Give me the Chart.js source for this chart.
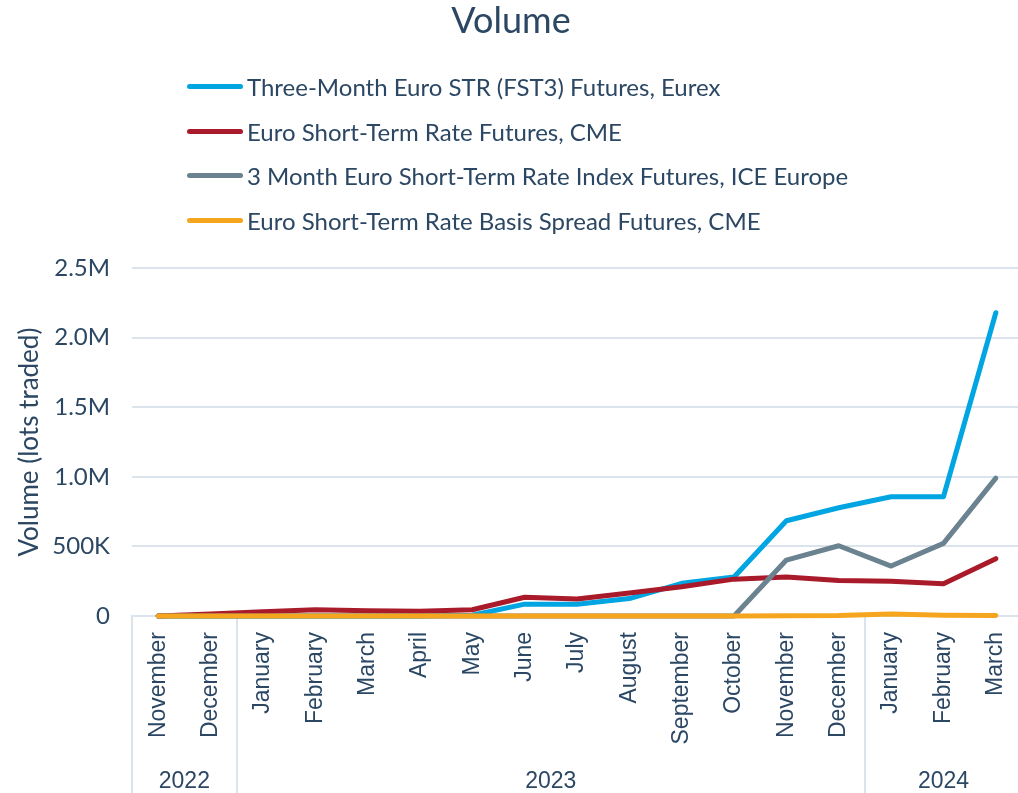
<!DOCTYPE html>
<html lang="en">
<head>
<meta charset="UTF-8">
<title>Volume</title>
<script src="https://cdn.jsdelivr.net/npm/chart.js"></script>
<style>
    html, body { margin: 0; padding: 0; background: #fff; overflow: hidden; }
    .chart-box { position: relative; width: 1022px; height: 793px; }
    #legend {
        position: absolute;
        left: 187px;
        top: 64px;
        font-family: Lato, sans-serif;
        font-size: 24px;
        color: #2b4763;
    }
    #legend .item { display: flex; align-items: center; height: 44.7px; white-space: nowrap; }
    #legend .swatch { width: 56px; height: 5px; border-radius: 3px; margin-right: 4px; }
</style>
</head>
<body>
<div class="chart-box">
    <canvas id="volumeChart"></canvas>
    <div id="legend"></div>
</div>
<script>
// months Nov 2022 .. Mar 2024
const months = ['November', 'December', 'January', 'February', 'March', 'April', 'May', 'June',
    'July', 'August', 'September', 'October', 'November', 'December', 'January', 'February', 'March'];
const years = ['2022', '2023', '2024'];
const monthsPerYear = [2, 12, 3];

const fst3Eurex = [0, 0, 0, 0, 0, 0, 5000, 85000, 85000, 125000, 235000, 280000, 685000, 778000, 857000, 857000, 2180000];
const estrCme = [0, 15000, 30000, 45000, 38000, 35000, 45000, 135000, 122000, 165000, 210000, 265000, 280000, 255000, 250000, 232000, 412000];
const iceEurope = [0, 0, 0, 0, 0, 0, 0, 0, 0, 0, 0, 0, 402000, 505000, 359000, 522000, 991000];
const basisCme = [0, 0, 0, 0, 0, 0, 0, 0, 0, 0, 0, 0, 2000, 3000, 15000, 5000, 3000];

const yTicks = [0, 500000, 1000000, 1500000, 2000000, 2500000];
const yTickLabels = ['0', '500K', '1.0M', '1.5M', '2.0M', '2.5M'];

const textColor = '#2b4763';
const gridColor = '#dbe4ed';

// year boundaries (in month index) and year label centres
const yearEdges = [0];
monthsPerYear.forEach(n => yearEdges.push(yearEdges[yearEdges.length - 1] + n));
const yearCentres = monthsPerYear.map((n, i) => yearEdges[i] + n / 2 - 0.5);

function line(label, data, color, order) {
    return {
        label: label,
        data: data,
        borderColor: color,
        backgroundColor: color,
        borderWidth: 5,
        borderCapStyle: 'round',
        borderJoinStyle: 'round',
        pointRadius: 0,
        pointHoverRadius: 0,
        tension: 0,
        fill: false,
        clip: 8, // keep the zero lines fully visible at the bottom edge
        order: order
    };
}

const chart = new Chart(document.getElementById('volumeChart'), {
    type: 'line',
    data: {
        labels: months,
        datasets: [
            line('Three-Month Euro STR (FST3) Futures, Eurex', fst3Eurex, '#00a5e1', 3),
            line('Euro Short-Term Rate Futures, CME', estrCme, '#a91b2a', 2),
            line('3 Month Euro Short-Term Rate Index Futures, ICE Europe', iceEurope, '#6b8391', 1),
            line('Euro Short-Term Rate Basis Spread Futures, CME', basisCme, '#f5a51e', 0)
        ]
    },
    options: {
        responsive: true,
        maintainAspectRatio: false,
        animation: false,
        layout: { padding: 0 },
        plugins: {
            title: {
                display: true,
                text: 'Volume',
                color: textColor,
                font: { family: 'Lato', size: 36, weight: 'normal' },
                // bottom padding leaves room for the html legend
                padding: { top: 0, bottom: 225 }
            },
            legend: { display: false },
            tooltip: { enabled: false }
        },
        scales: {
            x: {
                type: 'category',
                offset: true,
                grid: {
                    offset: true,
                    drawOnChartArea: false,
                    drawTicks: true,
                    tickLength: 177,
                    lineWidth: 2,
                    color: ctx => yearEdges.includes(ctx.index) ? gridColor : 'rgba(0,0,0,0)'
                },
                border: { display: true, color: gridColor, width: 2 },
                ticks: {
                    autoSkip: false,
                    maxRotation: 90,
                    minRotation: 90,
                    padding: -161,
                    color: textColor,
                    font: { family: 'Liberation Sans', size: 23 }
                },
                afterFit: scale => { scale.height = 150; }
            },
            years: {
                type: 'linear',
                position: 'bottom',
                min: -0.5,
                max: months.length - 0.5,
                grid: { display: false, drawTicks: false },
                border: { display: false },
                afterBuildTicks: scale => { scale.ticks = yearCentres.map(v => ({ value: v })); },
                ticks: {
                    autoSkip: false,
                    maxRotation: 0,
                    padding: 2,
                    color: textColor,
                    font: { family: 'Liberation Sans', size: 23 },
                    callback: value => years[yearCentres.indexOf(value)]
                },
                afterFit: scale => { scale.height = 27; }
            },
            y: {
                min: 0,
                max: 2500000,
                afterBuildTicks: scale => { scale.ticks = yTicks.map(v => ({ value: v })); },
                grid: { color: gridColor, lineWidth: 2, drawTicks: false },
                border: { display: false },
                ticks: {
                    padding: 22,
                    color: textColor,
                    font: { family: 'Lato', size: 24 },
                    callback: value => yTickLabels[yTicks.indexOf(value)]
                },
                title: {
                    display: true,
                    text: 'Volume (lots traded)',
                    color: textColor,
                    font: { family: 'Lato', size: 26 },
                    padding: { top: 14, bottom: 0 }
                },
                afterFit: scale => { scale.width = 132; }
            }
        }
    }
});

// html legend built from the datasets
const legendBox = document.getElementById('legend');
chart.data.datasets.forEach(ds => {
    const item = document.createElement('div');
    item.className = 'item';
    const swatch = document.createElement('span');
    swatch.className = 'swatch';
    swatch.style.background = ds.borderColor;
    const text = document.createElement('span');
    text.textContent = ds.label;
    item.appendChild(swatch);
    item.appendChild(text);
    legendBox.appendChild(item);
});
</script>
</body>
</html>
